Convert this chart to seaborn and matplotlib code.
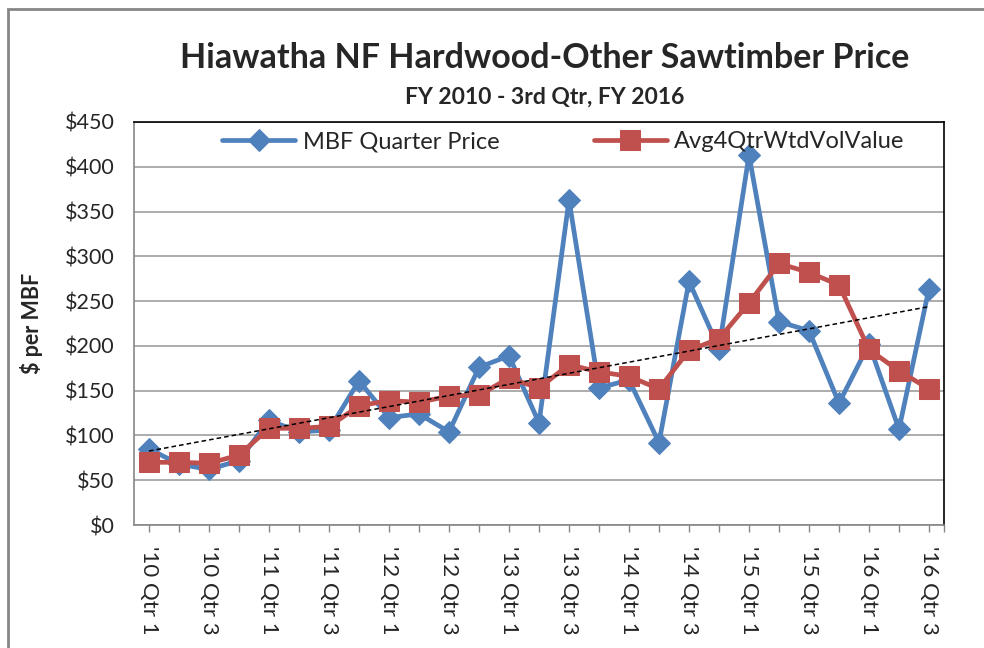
import numpy as np
import pandas as pd
import seaborn as sns
import matplotlib.pyplot as plt
from matplotlib.patches import Rectangle
from matplotlib.ticker import FuncFormatter, MultipleLocator

# quarter labels
quarters = ["'10 Qtr 1", "'10 Qtr 2", "'10 Qtr 3", "'10 Qtr 4",
            "'11 Qtr 1", "'11 Qtr 2", "'11 Qtr 3", "'11 Qtr 4",
            "'12 Qtr 1", "'12 Qtr 2", "'12 Qtr 3", "'12 Qtr 4",
            "'13 Qtr 1", "'13 Qtr 2", "'13 Qtr 3", "'13 Qtr 4",
            "'14 Qtr 1", "'14 Qtr 2", "'14 Qtr 3", "'14 Qtr 4",
            "'15 Qtr 1", "'15 Qtr 2", "'15 Qtr 3", "'15 Qtr 4",
            "'16 Qtr 1", "'16 Qtr 2", "'16 Qtr 3"]

# values ($ per MBF)
mbf_price = [85, 68, 62, 72, 117, 104, 106, 161, 120, 124, 104, 176, 189, 114,
             363, 153, 162, 92, 272, 197, 413, 227, 217, 136, 202, 107, 264]
avg4qtr = [70, 70, 69, 78, 108, 108, 110, 133, 139, 137, 144, 145, 164, 153,
           179, 171, 166, 152, 195, 208, 248, 292, 282, 268, 196, 172, 152]

df = pd.DataFrame({"idx": np.arange(len(quarters)), "quarter": quarters,
                   "mbf": mbf_price, "avg": avg4qtr})

sns.set_style("white")
plt.rcParams["font.family"] = ["Lato", "DejaVu Sans"]

blue = "#4F81BD"
red = "#C0504D"

fig = plt.figure(figsize=(9.84, 6.48), dpi=100)
ax = fig.add_axes([134 / 984, 1 - 525 / 648, (944 - 134) / 984, (525 - 122) / 648])

sns.lineplot(data=df, x="idx", y="mbf", ax=ax, color=blue, lw=3.4,
             marker="D", markersize=11, markeredgecolor=blue,
             label="MBF Quarter Price", zorder=3)
sns.lineplot(data=df, x="idx", y="avg", ax=ax, color=red, lw=3.4,
             marker="s", markersize=14, markeredgecolor=red,
             label="Avg4QtrWtdVolValue", zorder=4)
# linear trend of the quarterly price
sns.regplot(data=df, x="idx", y="mbf", ax=ax, scatter=False, ci=None,
            line_kws=dict(color="black", ls=(0, (3, 2)), lw=1.1, zorder=5))

ax.set_xlim(-0.5, len(quarters) - 0.5)
ax.set_ylim(0, 450)
ax.yaxis.set_major_locator(MultipleLocator(50))
ax.yaxis.set_major_formatter(FuncFormatter(lambda v, p: f"${v:.0f}"))
ax.grid(axis="y", color="#a6a6a6", lw=1.3)
ax.set_axisbelow(True)

ax.set_xticks(df["idx"][::2])
ax.set_xticklabels(df["quarter"][::2], rotation=-90, fontsize=16)
ax.set_xticks(list(df["idx"]) + [len(quarters) - 0.5], minor=True)
ax.tick_params(axis="x", which="both", length=5, color="#868686", width=1,
               bottom=True, pad=10)
ax.tick_params(axis="y", labelsize=15.5, length=0, pad=14)
ax.set_xlabel("")
ax.set_ylabel("$ per MBF", fontsize=15.5, fontweight="bold")
ax.yaxis.set_label_coords(-0.112, 0.5)

for s in ["left", "bottom"]:
    ax.spines[s].set_color("#868686")
    ax.spines[s].set_linewidth(1.2)
for s in ["top", "right"]:
    ax.spines[s].set_color("black")
    ax.spines[s].set_linewidth(1.2)

ax.legend(loc="upper center", bbox_to_anchor=(0.53, 1.03), ncol=2,
          frameon=False, fontsize=17, handlelength=3.1, columnspacing=4.0,
          handletextpad=0.3)

fig.text(0.554, 1 - 58 / 648, "Hiawatha NF Hardwood-Other Sawtimber Price",
         ha="center", va="center", fontsize=24.5, fontweight="bold")
fig.text(0.554, 1 - 97 / 648, "FY 2010 - 3rd Qtr, FY 2016",
         ha="center", va="center", fontsize=16.5, fontweight="bold")

fig.patches.append(Rectangle((8 / 984, -0.1), 1.2, 1.1 - 9 / 648,
                             transform=fig.transFigure, fill=False,
                             edgecolor="#868686", lw=2, zorder=0))

fig.savefig("out.png", dpi=100)
